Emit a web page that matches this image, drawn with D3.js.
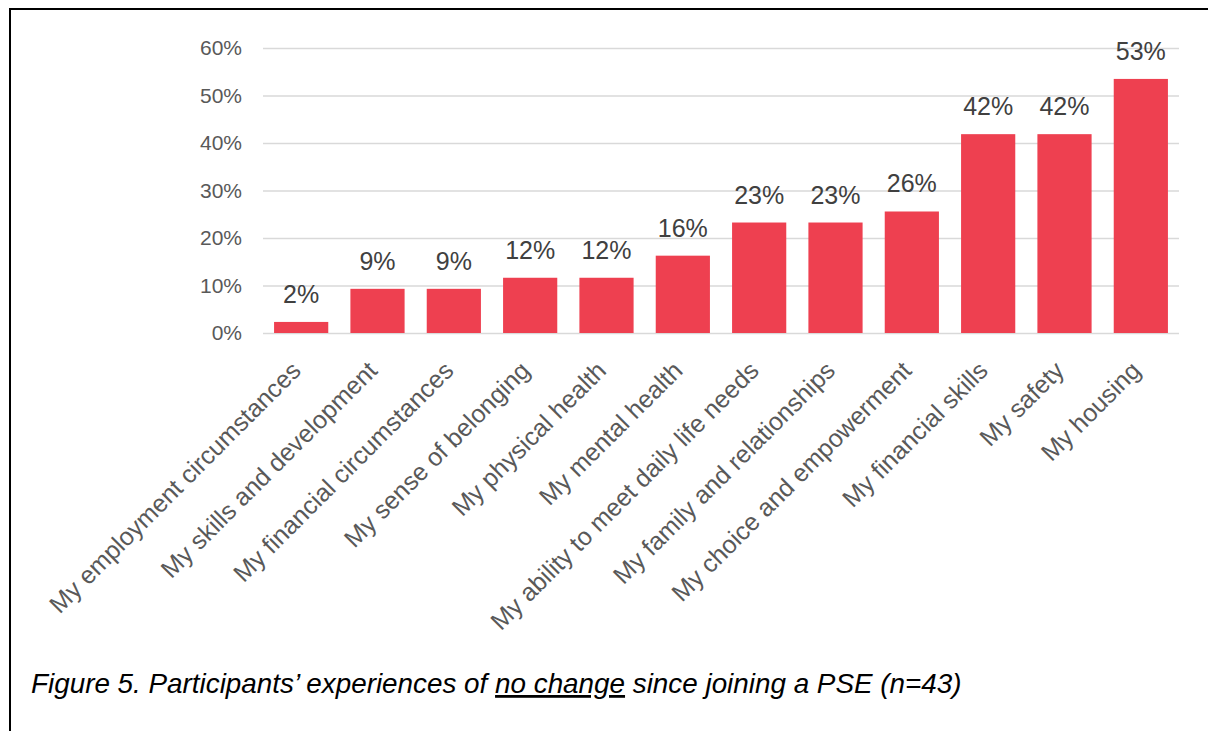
<!DOCTYPE html>
<html>
<head>
<meta charset="utf-8">
<script src="https://cdn.jsdelivr.net/npm/d3@7"></script>
<style>
  html, body { margin: 0; padding: 0; background: #fff; }
  svg { display: block; }
</style>
</head>
<body>
<svg id="chart" width="1208" height="731"></svg>
<script>
const categories = [
  "My employment circumstances",
  "My skills and development",
  "My financial circumstances",
  "My sense of belonging",
  "My physical health",
  "My mental health",
  "My ability to meet daily life needs",
  "My family and relationships",
  "My choice and empowerment",
  "My financial skills",
  "My safety",
  "My housing"
];
const values = [2.33, 9.30, 9.30, 11.63, 11.63, 16.28, 23.26, 23.26, 25.58, 41.86, 41.86, 53.49];
const yTicks = [0, 10, 20, 30, 40, 50, 60];
const captionParts = [
  { text: "Figure 5. Participants\u2019 experiences of ", underline: false },
  { text: "no change", underline: true },
  { text: " since joining a PSE (n=43)", underline: false }
];

const svg = d3.select("#chart");
const W = 1208, H = 731;
const m = { left: 263, right: 29 };

// frame (top and left border)
svg.append("line").attr("x1", 10).attr("x2", W).attr("y1", 9).attr("y2", 9)
  .attr("stroke", "#000").attr("stroke-width", 2);
svg.append("line").attr("x1", 10).attr("x2", 10).attr("y1", 8).attr("y2", H)
  .attr("stroke", "#000").attr("stroke-width", 2);

const x = d3.scaleBand().domain(categories).range([m.left, W - m.right]).paddingInner(0.29).paddingOuter(0.145);
const y = d3.scaleLinear().domain([0, 60]).range([333, 48]);

// gridlines
const yAxis = d3.axisLeft(y).tickValues(yTicks).tickFormat(d => d + "%")
  .tickSize(-(W - m.right - m.left)).tickPadding(21);
const gy = svg.append("g").attr("transform", `translate(${m.left},0)`).call(yAxis);
gy.select(".domain").remove();
gy.selectAll(".tick line").attr("stroke", "#d9d9d9").attr("stroke-width", 1.5);
gy.selectAll(".tick text").attr("fill", "#595959")
  .style("font-family", "'Liberation Sans', Arial, sans-serif").style("font-size", "21px");

// bars
svg.append("g").selectAll("rect").data(values).join("rect")
  .attr("x", (d, i) => x(categories[i]))
  .attr("width", x.bandwidth())
  .attr("y", d => y(d))
  .attr("height", d => y(0) - y(d))
  .attr("fill", "#EE4050");

// data labels
svg.append("g").selectAll("text").data(values).join("text")
  .attr("x", (d, i) => x(categories[i]) + x.bandwidth() / 2)
  .attr("y", d => y(d) - 19)
  .attr("text-anchor", "middle")
  .attr("fill", "#404040")
  .style("font-family", "'Liberation Sans', Arial, sans-serif")
  .style("font-size", "25px")
  .text(d => Math.round(d) + "%");

// x axis category labels
const xAxis = d3.axisBottom(x).tickSize(0).tickPadding(0);
const gx = svg.append("g").attr("transform", `translate(0,333)`).call(xAxis);
gx.select(".domain").remove();
gx.selectAll(".tick text")
  .attr("transform", "translate(-8,30) rotate(-45)")
  .attr("x", 0).attr("y", 0).attr("dy", "0.52em")
  .attr("text-anchor", "end")
  .attr("fill", "#595959")
  .style("font-family", "'Liberation Sans', Arial, sans-serif")
  .style("font-size", "25px");

// caption
const cap = svg.append("text").attr("x", 31).attr("y", 693)
  .attr("fill", "#000")
  .style("font-family", "'Liberation Sans', Arial, sans-serif")
  .style("font-style", "italic")
  .style("font-size", "24px");
cap.selectAll("tspan").data(captionParts).join("tspan")
  .text(d => d.text)
  .style("text-decoration", d => d.underline ? "underline" : "none");
const len = cap.node().getComputedTextLength();
const target = 931;
cap.style("font-size", (24 * target / len).toFixed(2) + "px");
</script>
</body>
</html>
